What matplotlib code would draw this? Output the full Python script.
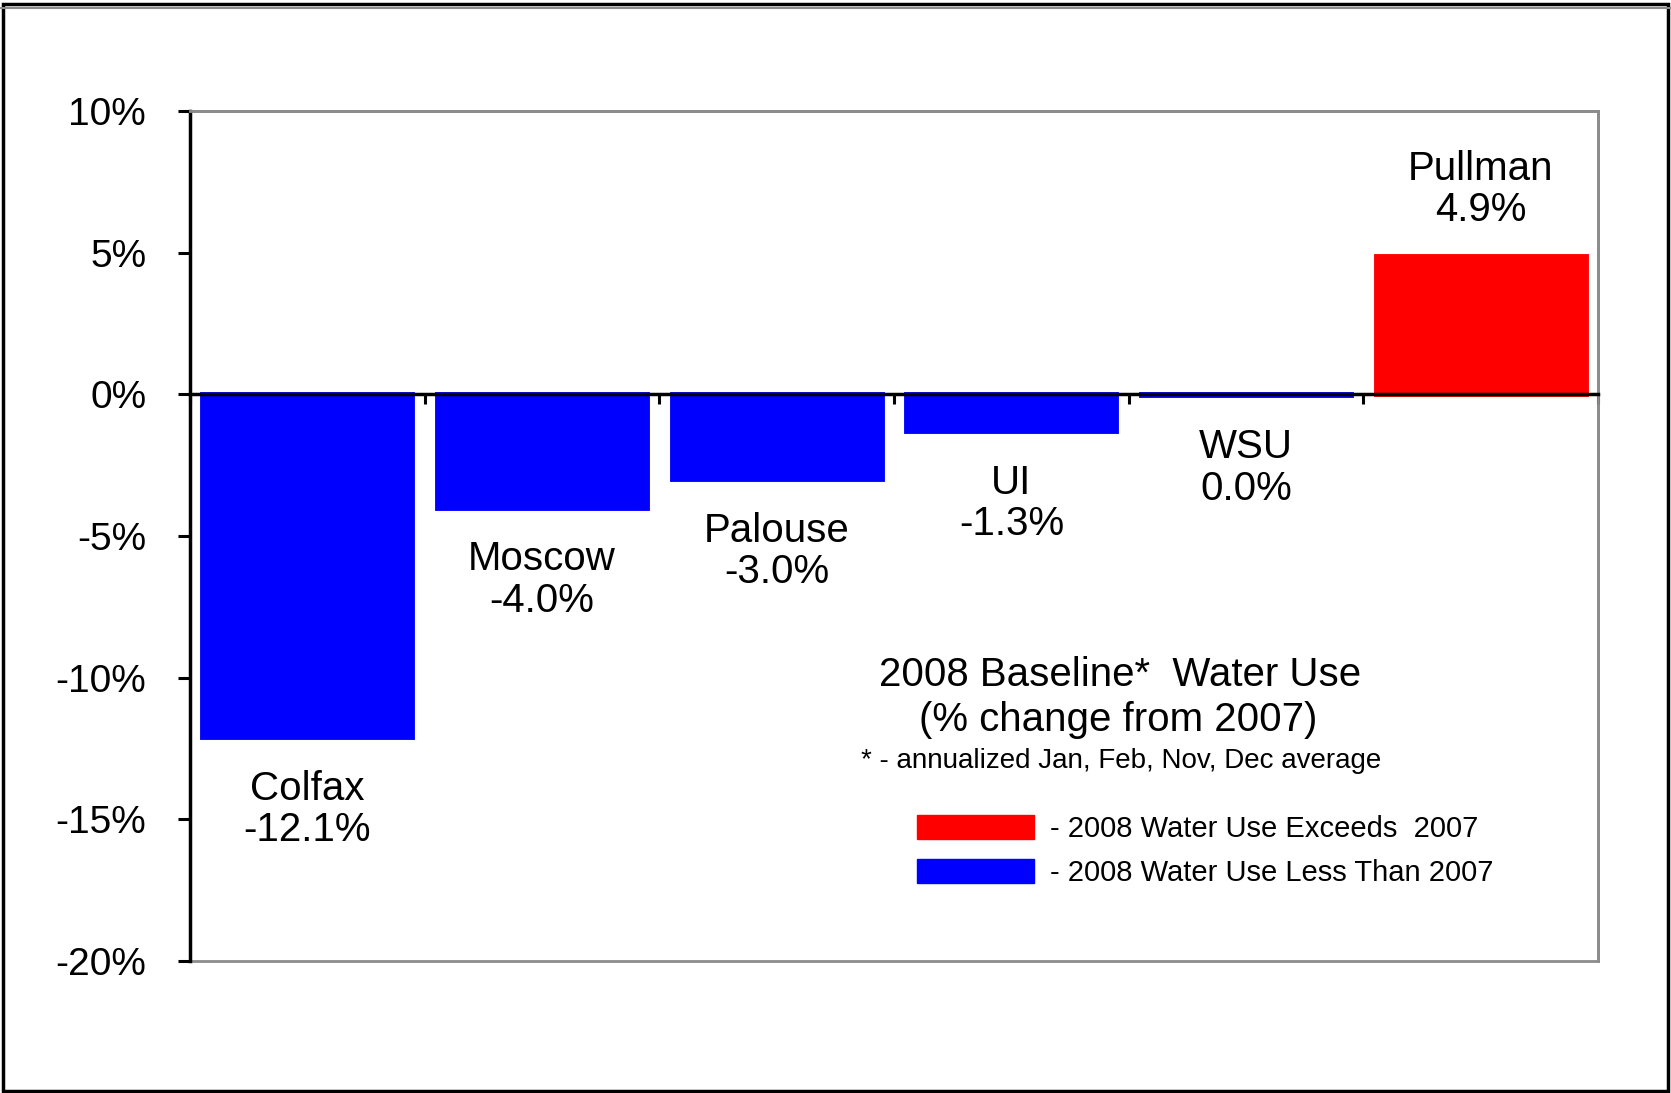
import matplotlib

matplotlib.use("Agg")
import matplotlib.pyplot as plt
from matplotlib.patches import Patch, Rectangle
import numpy as np

plt.rcParams["font.family"] = ["Liberation Sans", "DejaVu Sans"]

# data
sites = ["Colfax", "Moscow", "Palouse", "UI", "WSU", "Pullman"]
pct_change = [-12.1, -4.0, -3.0, -1.3, -0.04, 4.9]
y_ticks = [10, 5, 0, -5, -10, -15, -20]
legend_labels = ["- 2008 Water Use Exceeds  2007", "- 2008 Water Use Less Than 2007"]

UP, DOWN = "#FF0000", "#0000FF"

fig = plt.figure(figsize=(16.71, 10.93), dpi=100)
fig.patch.set_facecolor("white")
ax = fig.add_axes([0.1137, 0.1208, 0.8426, 0.7776])

x = np.arange(len(sites))
colors = [UP if v > 0 else DOWN for v in pct_change]
ax.bar(x, pct_change, width=0.895, color=colors, edgecolor=colors, linewidth=3.5, zorder=1)

# value labels: name on top line, percentage below
for i, (name, v) in enumerate(zip(sites, pct_change)):
    off = 2.33 if v > 0 else -2.55
    ax.text(i, v + off, f"{name}\n{round(v, 1) + 0.0:.1f}%", ha="center", va="center",
            fontsize=29, linespacing=1.12)

ax.set_xlim(-0.5, len(sites) - 0.5)
ax.set_ylim(min(y_ticks), max(y_ticks))
ax.set_yticks(y_ticks)
ax.set_yticklabels([f"{t}%" for t in y_ticks], fontsize=28)
ax.tick_params(axis="y", direction="out", length=8.5, width=2.2, pad=23, color="black")

# category axis sits on the zero line, ticks between categories
ax.spines["bottom"].set_position(("data", 0))
ax.spines["bottom"].set_linewidth(2.5)
ax.spines["bottom"].set_color("black")
ax.set_xticks(np.arange(len(sites) + 1) - 0.5)
ax.set_xticklabels([])
ax.tick_params(axis="x", direction="out", length=7, width=2.2, color="black")

ax.spines["left"].set_linewidth(2.5)
ax.spines["left"].set_color("black")
for side in ("top", "right"):
    ax.spines[side].set_color("#8C8C8C")
    ax.spines[side].set_linewidth(2)
# plot-area frame (bottom edge at -20%)
ax.add_patch(Rectangle((0, 0), 1, 1, transform=ax.transAxes, fill=False,
                       edgecolor="#8C8C8C", linewidth=2, zorder=0, clip_on=False))

fig.text(0.670, 0.382, "2008 Baseline*  Water Use", ha="center", va="center", fontsize=29)
fig.text(0.669, 0.341, "(% change from 2007)", ha="center", va="center", fontsize=29)
fig.text(0.671, 0.3035, "* - annualized Jan, Feb, Nov, Dec average", ha="center",
         va="center", fontsize=20)

handles = [Patch(facecolor=UP, edgecolor=UP), Patch(facecolor=DOWN, edgecolor=DOWN)]
fig.legend(handles, legend_labels, loc="upper left", bbox_to_anchor=(0.5488, 0.2545),
           frameon=False, fontsize=21, handlelength=4.0, handleheight=0.9,
           handletextpad=0.55, labelspacing=0.55, borderpad=0, borderaxespad=0)

# outer chart border
fig.add_artist(Rectangle((0.002, 0.002), 0.996, 0.994, transform=fig.transFigure,
                         fill=False, edgecolor="black", linewidth=2.5))
fig.add_artist(plt.Line2D([0, 1], [0.9925, 0.9925], transform=fig.transFigure,
                          color="#8C8C8C", linewidth=1.5))

fig.savefig("out.png", dpi=100, facecolor="white")
plt.close(fig)
